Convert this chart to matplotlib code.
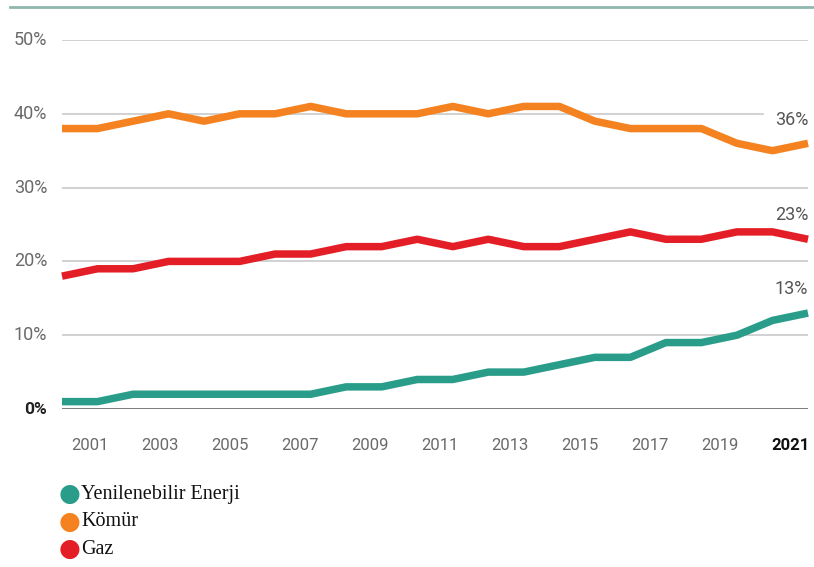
import matplotlib
matplotlib.use("Agg")
import matplotlib.pyplot as plt
import numpy as np

years = np.arange(2000, 2022)
komur = [38, 38, 39, 40, 39, 40, 40, 41, 40, 40, 40, 41, 40, 41, 41, 39, 38, 38, 38, 36, 35, 36]
gaz = [18, 19, 19, 20, 20, 20, 21, 21, 22, 22, 23, 22, 23, 22, 22, 23, 24, 23, 23, 24, 24, 23]
yenilenebilir = [1, 1, 2, 2, 2, 2, 2, 2, 3, 3, 4, 4, 5, 5, 6, 7, 7, 9, 9, 10, 12, 13]

series_names = ["Yenilenebilir Enerji", "Kömür", "Gaz"]
series_colors = ["#2a9d8a", "#f58220", "#e41e26"]
y_ticks = [0, 10, 20, 30, 40, 50]
x_labels = ["2001", "2003", "2005", "2007", "2009", "2011", "2013", "2015", "2017", "2019", "2021"]

W, H = 814, 567
fig = plt.figure(figsize=(W / 100, H / 100), dpi=100)
ax = fig.add_axes([62 / W, 1 - 409 / H, 746 / W, 369 / H])
ax.set_xlim(2000, 2021)
ax.set_ylim(0, 50)
for s in ax.spines.values():
    s.set_visible(False)
ax.set_xticks([])
ax.set_yticks([])

# horizontal grid, the 40% line stops short of the end label
for t in y_ticks[1:]:
    xmax = 0.94 if t == 40 else 1.0
    ax.axhline(t, xmin=0, xmax=xmax, color="#c9c9c9", lw=1.2, zorder=1)
ax.axhline(0, color="#555555", lw=1.8, zorder=1)

for t in y_ticks:
    bold = t == 0
    ax.text(-0.02, t, f"{t}%", transform=ax.get_yaxis_transform(),
            ha="right", va="center", fontsize=13 if not bold else 12.5, family="Roboto",
            color="#222222" if bold else "#6a6a6a",
            fontweight="bold" if bold else "normal")

# year labels sit a little left of their data points
label_pos = np.linspace(2000.79, 2020.5, len(x_labels))
for xp, lab in zip(label_pos, x_labels):
    last = lab == x_labels[-1]
    ax.text(xp, -3.9, lab, ha="center", va="top", fontsize=12, family="Roboto",
            color="#111111" if last else "#6a6a6a",
            fontweight="bold" if last else "normal")

for vals, col in zip([yenilenebilir, komur, gaz], series_colors):
    ax.plot(years, vals, color=col, lw=5.4, solid_joinstyle="round",
            solid_capstyle="butt", zorder=3, clip_on=False)
    ax.text(2021.0, vals[-1] + 2.0, f"{vals[-1]}%", ha="right", va="bottom",
            fontsize=13, family="Roboto", color="#555555")

# thin rule across the top
fig.add_artist(plt.Line2D([10 / W, 1], [1 - 7 / H, 1 - 7 / H], color="#8fb8ae",
                          lw=2, transform=fig.transFigure))

# legend as dots with serif labels
for i, (name, col) in enumerate(zip(series_names, series_colors)):
    yy = 1 - (494 + 27.5 * i) / H
    fig.text(70 / W, yy, "\u25CF", color=col, fontsize=18, ha="center", va="center",
             family="DejaVu Sans")
    fig.text(81 / W, yy, name, color="#111111", fontsize=14.5, ha="left", va="center",
             family="Liberation Serif")

fig.savefig("out.png", dpi=100)
